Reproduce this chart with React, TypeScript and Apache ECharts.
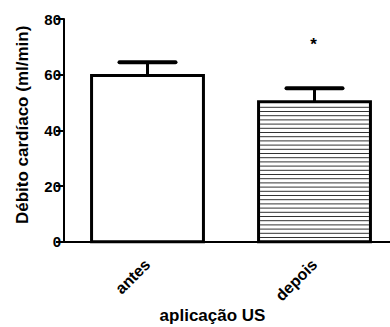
import React, { useEffect, useRef } from "react";
import * as echarts from "echarts";

const categories = ["antes", "depois"];
const means = [59.7, 50.3];
const errorTops = [64.5, 55.1];
const fillPatterns = ["plain", "hlines"];
const significance = ["", "*"];
const significanceLevel = [0, 71];
const yMin = 0;
const yMax = 80;
const yInterval = 20;

const FONT = "'Liberation Sans', Arial, sans-serif";
const BAR_FRACTION = 0.67;

export default function App() {
  const ref = useRef<HTMLDivElement>(null);
  useEffect(() => {
    if (!ref.current) return;
    const chart = echarts.init(ref.current, undefined, { renderer: "svg" });
    const option: any = {
      animation: false,
      backgroundColor: "#fff",
      grid: { left: 64, right: -8, top: 19, bottom: 85.3, outerBoundsMode: "none", containLabel: false },
      xAxis: {
        type: "category",
        data: categories,
        name: "aplicação US",
        nameLocation: "middle",
        nameGap: 65,
        nameMoveOverlap: false,
        nameTextStyle: {
          fontFamily: FONT,
          fontWeight: "bold",
          fontSize: 17,
          color: "#000",
          padding: [0, 37, 0, 0],
        },
        axisLine: { lineStyle: { color: "#000", width: 2 } },
        axisTick: { alignWithLabel: true, length: 6, lineStyle: { color: "#000", width: 2 } },
        axisLabel: {
          rotate: 45,
          fontFamily: FONT,
          fontWeight: "bold",
          fontSize: 16,
          color: "#000",
          margin: 20,
        },
      },
      yAxis: {
        type: "value",
        min: yMin,
        max: yMax,
        interval: yInterval,
        name: "Débito cardíaco (ml/min)",
        nameLocation: "middle",
        nameGap: 33,
        nameMoveOverlap: false,
        nameTextStyle: {
          fontFamily: FONT,
          fontWeight: "bold",
          fontSize: 17,
          color: "#000",
          padding: [0, 0, 0, 11],
        },
        splitLine: { show: false },
        axisLine: { show: true, lineStyle: { color: "#000", width: 2 } },
        axisTick: { show: true, length: 8, lineStyle: { color: "#000", width: 2 } },
        axisLabel: {
          fontFamily: FONT,
          fontWeight: "bold",
          fontSize: 15,
          color: "#000",
          margin: 3,
        },
      },
      series: [
        {
          type: "custom",
          data: categories.map((c, i) => [i, means[i]]),
          renderItem: (params: any, api: any) => {
            const i = api.value(0);
            const v = api.value(1);
            const bottom = api.coord([i, 0]);
            const top = api.coord([i, v]);
            const w = api.size([1, 0])[0] * BAR_FRACTION;
            const xl = bottom[0] - w / 2;
            const xr = bottom[0] + w / 2;
            const children: any[] = [
              {
                type: "rect",
                shape: { x: xl, y: top[1], width: w, height: bottom[1] - top[1] },
                style: { fill: "#fff", stroke: "none" },
              },
            ];
            if (fillPatterns[params.dataIndex] === "hlines") {
              for (let y = bottom[1] - 4.2; y > top[1] + 2.5; y -= 4.2) {
                children.push({
                  type: "line",
                  shape: { x1: xl + 1.5, y1: y, x2: xr - 1.5, y2: y },
                  style: { stroke: "#333", lineWidth: 1 },
                });
              }
            }
            children.push({
              type: "rect",
              shape: { x: xl, y: top[1], width: w, height: bottom[1] - top[1] },
              style: { fill: "none", stroke: "#000", lineWidth: 3 },
            });
            return { type: "group", children };
          },
        },
        {
          type: "custom",
          data: categories.map((c, i) => [i, means[i], errorTops[i], significanceLevel[i]]),
          renderItem: (params: any, api: any) => {
            const i = api.value(0);
            const v = api.value(1);
            const t = api.value(2);
            const s = api.value(3);
            const p0 = api.coord([i, v]);
            const p1 = api.coord([i, t]);
            const children: any[] = [
              {
                type: "line",
                shape: { x1: p0[0], y1: p0[1], x2: p1[0], y2: p1[1] },
                style: { stroke: "#000", lineWidth: 3 },
              },
              {
                type: "line",
                shape: { x1: p1[0] - 28, y1: p1[1], x2: p1[0] + 28, y2: p1[1] },
                style: { stroke: "#000", lineWidth: 4, lineCap: "round" },
              },
            ];
            if (significance[params.dataIndex]) {
              const ps = api.coord([i, s]);
              children.push({
                type: "text",
                x: ps[0] - 1,
                y: ps[1],
                style: {
                  text: significance[params.dataIndex],
                  fontFamily: FONT,
                  fontWeight: "bold",
                  fontSize: 17,
                  fill: "#000",
                  align: "center",
                  verticalAlign: "middle",
                },
              });
            }
            return { type: "group", children };
          },
        },
      ],
    };
    chart.setOption(option);
    return () => chart.dispose();
  }, []);
  return (
    <div
      ref={ref}
      style={{ position: "absolute", left: 0, top: 0, width: 390, height: 327 }}
    />
  );
}
